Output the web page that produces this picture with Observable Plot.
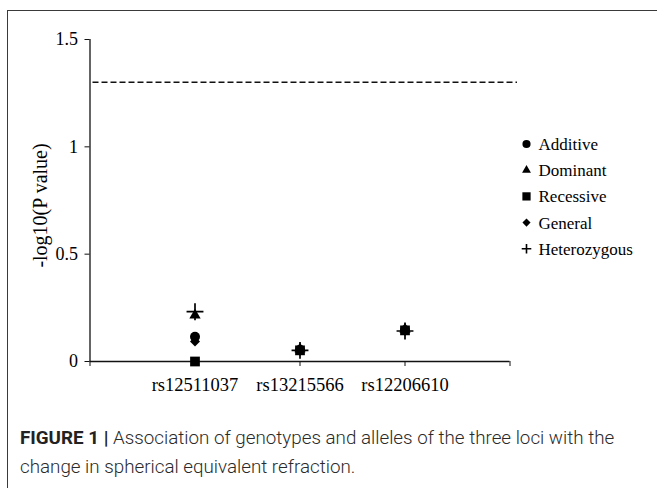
<!DOCTYPE html>
<html><head><meta charset="utf-8">
<script src="https://cdn.jsdelivr.net/npm/d3@7"></script>
<script src="https://cdn.jsdelivr.net/npm/@observablehq/plot@0.6"></script>
<style>
html,body{margin:0;padding:0;background:#fff;}
body{width:657px;height:488px;overflow:hidden;position:relative;}
#chart{position:absolute;left:0;top:0;}
#frame{position:absolute;left:6.5px;top:10px;width:720px;height:540px;border-left:1.5px solid #3a3a3a;border-top:1.5px solid #3a3a3a;pointer-events:none;}
#caption{position:absolute;left:20px;top:424px;width:640px;font-family:Roboto,"Liberation Sans",sans-serif;font-weight:300;font-size:18.8px;line-height:29px;color:#2a2a2a;white-space:nowrap;}
#caption b{font-weight:700;color:#222;}
</style>
</head><body>
<div id="chart"></div>
<div id="frame"></div>
<div id="caption"><b>FIGURE 1 |</b> Association of genotypes and alleles of the three loci with the<br>change in spherical equivalent refraction.</div>
<script>
// ---- data ----
const loci = ["rs12511037", "rs13215566", "rs12206610"];
const models = ["Additive", "Dominant", "Recessive", "General", "Heterozygous"];
const additive = [0.115, 0.055, 0.146];
const dominant = [0.215, 0.058, 0.15];
const recessive = [0.0, 0.052, 0.145];
const general = [0.093, 0.05, 0.143];
const heterozygous = [0.232, 0.052, 0.142];
const threshold = 1.301;            // -log10(0.05)
const yTicks = [0, 0.5, 1, 1.5];
const yLabel = "-log10(P value)";

const seriesByModel = {Additive: additive, Dominant: dominant, Recessive: recessive, General: general, Heterozygous: heterozygous};
const rows = models.flatMap(m => loci.map((l, j) => ({model: m, locus: l, pos: j + 1, value: seriesByModel[m][j]})));

// ---- styles ----
const style = {
  Additive:     {symbol: "circle",   r: 5,   d3: d3.symbolCircle,   lsize: 52, filled: true},
  Dominant:     {symbol: "triangle", r: 4.2, d3: d3.symbolTriangle, lsize: 34, filled: true},
  Recessive:    {symbol: "square",   r: 5.5, d3: d3.symbolSquare,   lsize: 68, filled: true},
  General:      {symbol: "diamond2", r: 4.5, d3: d3.symbolDiamond2, lsize: 42, filled: true},
  Heterozygous: {symbol: "plus",     r: 5.5, d3: d3.symbolPlus,     lsize: 32, filled: false}
};
const drawOrder = ["Recessive", "General", "Additive", "Dominant", "Heterozygous"];

const dotMarks = drawOrder.map(m => {
  const s = style[m];
  const data = rows.filter(d => d.model === m);
  return s.filled
    ? Plot.dot(data, {x: "pos", y: "value", symbol: () => s.symbol, r: s.r, fill: "#000", stroke: "none"})
    : Plot.dot(data, {x: "pos", y: "value", symbol: () => s.symbol, r: s.r, fill: "none", stroke: "#000", strokeWidth: 1.7});
});

const W = 657, H = 410;
const serif = "'Liberation Serif', 'Times New Roman', serif";
const plot = Plot.plot({
  width: W, height: H,
  marginLeft: 89.5, marginRight: 147.5, marginTop: 39, marginBottom: 49,
  style: {background: "transparent", fontFamily: serif, color: "#000"},
  x: {domain: [0, 4]},
  y: {domain: [0, 1.5]},
  symbol: {type: "identity"},
  marks: [
    Plot.ruleY([threshold], {stroke: "#111", strokeWidth: 1.6, strokeDasharray: "6,3", insetLeft: 3, insetRight: -7.5}),
    Plot.ruleX([0], {stroke: "#111", strokeWidth: 1.3}),
    Plot.ruleY([0], {stroke: "#111", strokeWidth: 1.3}),
    Plot.axisY({ticks: yTicks, tickFormat: d => String(d), tickSize: 5, tickPadding: 7, fontSize: 18, label: null, stroke: "#111"}),
    Plot.axisX({ticks: [0, 1, 2, 3, 4], tickFormat: i => loci[i - 1] ?? "", tickSize: 5, tickPadding: 11, fontSize: 18.5, label: null, stroke: "#111"}),
    Plot.text([yLabel], {text: d => d, frameAnchor: "left", textAnchor: "middle", lineAnchor: "middle", rotate: -90, dx: -49, dy: 5, fontSize: 20}),
    ...dotMarks
  ]
});
document.getElementById("chart").appendChild(plot);

// ---- legend (inside the same svg) ----
const svg = d3.select(plot);
const lg = svg.append("g").attr("font-family", serif).attr("font-size", 17).attr("text-anchor", "start");
models.forEach((m, i) => {
  const s = style[m];
  const cy = 144 + i * 26.2;
  lg.append("path")
    .attr("transform", `translate(526.5,${cy})`)
    .attr("d", d3.symbol(s.d3, s.lsize)())
    .attr("fill", s.filled ? "#000" : "none")
    .attr("stroke", s.filled ? "none" : "#000")
    .attr("stroke-width", 1.6);
  lg.append("text").attr("x", 538.5).attr("y", cy).attr("dy", "0.35em").attr("fill", "#000").text(m);
});
</script>
</body></html>
